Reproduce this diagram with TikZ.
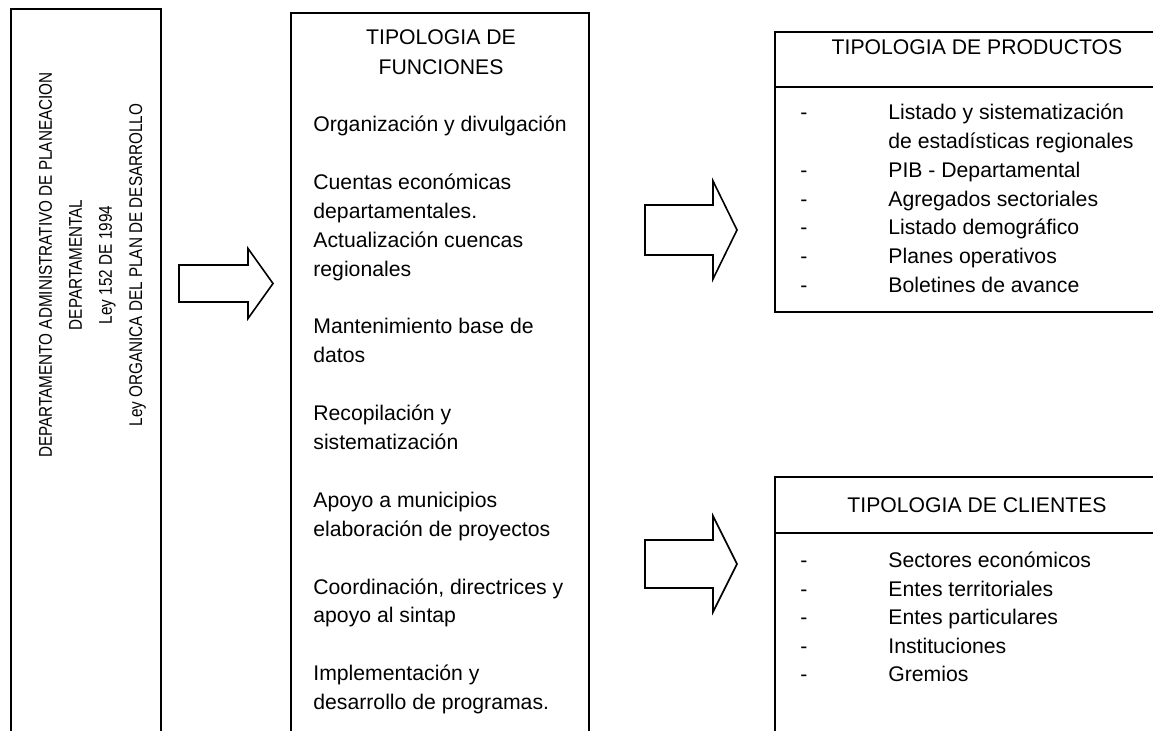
\documentclass[tikz,border=0pt]{standalone}
\usepackage{fontspec}
\setmainfont{Liberation Sans}
\newfontfamily\narrowfont[FakeStretch=0.83]{Liberation Sans}
\begin{document}
\begin{tikzpicture}[x=0.5pt,y=-0.5pt,
    box/.style={draw,line width=0.8pt},
    blockarrow/.style={draw,line width=0.8pt,line join=miter},
    txt/.style={inner sep=0pt,anchor=base west},
    head/.style={inner sep=0pt,anchor=base},
    side/.style={inner sep=0pt,anchor=base,rotate=90,font=\narrowfont\fontsize{9.2}{14}\selectfont},
    every node/.style={font=\fontsize{10.6}{14}\selectfont}]
    \useasboundingbox (0,0) rectangle (1153,731);
    \clip (0,0) rectangle (1153,731);

    % left box
    \draw[box] (11,9) rectangle (161,760);
    \node[side] (dep1) at (52,265) {DEPARTAMENTO ADMINISTRATIVO DE PLANEACION};
    \node[side] (dep2) at (82,265) {DEPARTAMENTAL};
    \node[side] (dep3) at (112,265) {Ley 152 DE 1994};
    \node[side] (dep4) at (142,265) {Ley ORGANICA DEL PLAN DE DESARROLLO};

    % middle box
    \draw[box] (291,13) rectangle (589,760);
    \node[head] (funA) at (441,45) {TIPOLOGIA DE};
    \node[head] (funB) at (441,75) {FUNCIONES};
    \foreach \k/\t in {3/Organización y divulgación,
            5/Cuentas económicas, 6/departamentales.,
            7/Actualización cuencas, 8/regionales,
            10/Mantenimiento base de, 11/datos,
            13/Recopilación y, 14/sistematización,
            16/Apoyo a municipios, 17/elaboración de proyectos,
            19/{Coordinación, directrices y}, 20/apoyo al sintap,
            22/Implementación y, 23/desarrollo de programas.}
        \node[txt] (fun\k) at (313,{45+28.9*\k}) {\t};

    % products box
    \draw[box] (775,32) rectangle (1180,312);
    \draw[box] (775,87) -- (1180,87);
    \node[head] (prod) at (977,55) {TIPOLOGIA DE PRODUCTOS};
    \foreach \k/\t in {0/Listado y sistematización,
            1/de estadísticas regionales, 2/PIB - Departamental,
            3/Agregados sectoriales, 4/Listado demográfico,
            5/Planes operativos, 6/Boletines de avance}
        \node[txt] (prod\k) at (888,{120+28.7*\k}) {\t};
    \foreach \k in {0,2,3,4,5,6}
        \node[txt] (pdash\k) at (800,{120+28.7*\k}) {-};

    % clients box
    \draw[box] (775,477) rectangle (1180,760);
    \draw[box] (775,533) -- (1180,533);
    \node[head] (cli) at (977,513) {TIPOLOGIA DE CLIENTES};
    \foreach \k/\t in {0/Sectores económicos, 1/Entes territoriales,
            2/Entes particulares, 3/Instituciones, 4/Gremios}
        \node[txt] (cli\k) at (888,{568+28.5*\k}) {\t};
    \foreach \k in {0,...,4}
        \node[txt] (cdash\k) at (800,{568+28.5*\k}) {-};

    % block arrows
    \coordinate (arrA) at (179,265);
    \coordinate (arrB) at (645,205);
    \coordinate (arrC) at (645,540);
    \draw[blockarrow] (arrA) -- ++(69,0) -- ++(0,-16.5) -- ++(25,35)
        -- ++(-25,35) -- ++(0,-16.5) -- ++(-69,0) -- cycle;
    \draw[blockarrow] (arrB) -- ++(68,0) -- ++(0,-24) -- ++(24,49)
        -- ++(-24,49) -- ++(0,-24) -- ++(-68,0) -- cycle;
    \draw[blockarrow] (arrC) -- ++(68,0) -- ++(0,-24) -- ++(24,48)
        -- ++(-24,48) -- ++(0,-24) -- ++(-68,0) -- cycle;
\end{tikzpicture}
\end{document}
